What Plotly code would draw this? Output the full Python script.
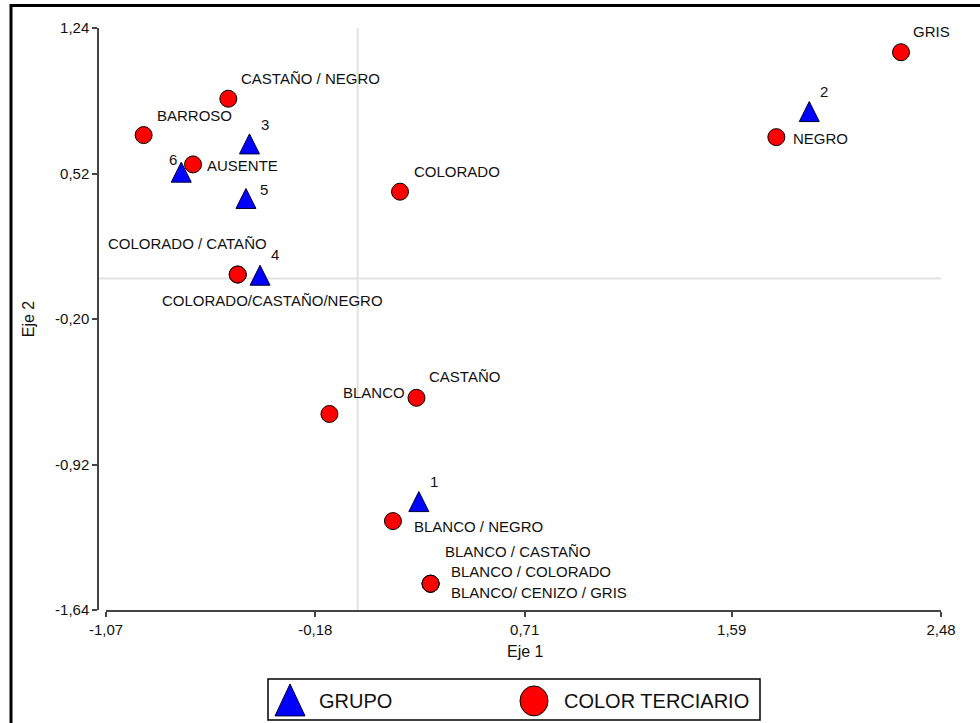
import plotly.graph_objects as go

# ---------------- data ----------------
group_labels = ["1", "2", "3", "4", "5", "6"]
group_x = [0.26, 1.92, -0.46, -0.415, -0.475, -0.75]
group_y = [-1.12, 0.81, 0.65, 0.00, 0.38, 0.51]

color_labels = [
    "GRIS", "NEGRO", "CASTAÑO / NEGRO", "BARROSO", "AUSENTE", "COLORADO",
    "COLORADO / CATAÑO", "COLORADO/CASTAÑO/NEGRO", "BLANCO", "CASTAÑO",
    "BLANCO / NEGRO", "BLANCO / CASTAÑO", "BLANCO / COLORADO", "BLANCO/ CENIZO / GRIS",
]
color_x = [2.31, 1.78, -0.55, -0.91, -0.70, 0.18, -0.51, -0.51, -0.12, 0.25, 0.15, 0.31, 0.31, 0.31]
color_y = [1.12, 0.70, 0.89, 0.71, 0.565, 0.43, 0.02, 0.02, -0.67, -0.59, -1.20, -1.51, -1.51, -1.51]

x_ticks = [-1.07, -0.18, 0.71, 1.59, 2.48]
y_ticks = [-1.64, -0.92, -0.20, 0.52, 1.24]
x_ticktext = ["-1,07", "-0,18", "0,71", "1,59", "2,48"]
y_ticktext = ["-1,64", "-0,92", "-0,20", "0,52", "1,24"]

legend_names = ["GRUPO", "COLOR TERCIARIO"]
axis_titles = ["Eje 1", "Eje 2"]

# label placement (anchor, xshift px, yshift px)
group_label_pos = [("center", 15, 23), ("center", 15, 23), ("center", 16, 23),
                   ("center", 15, 24), ("center", 18, 12), ("center", -8, 16)]
color_label_pos = [
    ("center", 30, 21), ("left", 15, -1), ("left", 11, 20), ("left", 11, 20),
    ("left", 12, -1), ("left", 12, 20), ("right", 31, 31), ("left", -78, -26),
    ("left", 12, 21), ("left", 11, 21), ("left", 19, -5), ("left", 12, 32),
    ("left", 18, 12), ("left", 18, -9),
]

FONT = "Liberation Sans, Arial, sans-serif"

# plot area in pixels: x 98..941, y 27.5..610
L, R, T, B = 98, 39, 27.5, 113
W, H = 980, 723
PW = W - L - R
PH = H - T - B


def px(xp):
    return (xp - L) / PW


def py(yp):
    return (H - B - yp) / PH


TRI = 20  # triangle marker size (px)

fig = go.Figure()

fig.add_trace(go.Scatter(
    x=group_x, y=group_y, mode="markers", name=legend_names[0],
    marker=dict(symbol="arrow-down", size=TRI, color="#0000FF", angle=180,
                standoff=TRI * 2 / 3,
                line=dict(color="#000033", width=1)),
    hoverinfo="text", text=group_labels, showlegend=False,
))
fig.add_trace(go.Scatter(
    x=color_x, y=color_y, mode="markers", name=legend_names[1],
    marker=dict(symbol="circle", size=17, color="#FF0000",
                line=dict(color="#000000", width=1)),
    hoverinfo="text", text=color_labels, showlegend=False,
))

annotations = []
for lab, xv, yv, (anc, dx, dy) in zip(group_labels, group_x, group_y, group_label_pos):
    annotations.append(dict(x=xv, y=yv, xref="x", yref="y", text=lab, showarrow=False,
                            xanchor=anc, yanchor="middle", xshift=dx, yshift=dy,
                            font=dict(family=FONT, size=15, color="#111111")))
for lab, xv, yv, (anc, dx, dy) in zip(color_labels, color_x, color_y, color_label_pos):
    annotations.append(dict(x=xv, y=yv, xref="x", yref="y", text=lab, showarrow=False,
                            xanchor=anc, yanchor="middle", xshift=dx, yshift=dy,
                            font=dict(family=FONT, size=15, color="#111111")))

# axis titles
annotations.append(dict(x=px(525), y=py(652), xref="paper", yref="paper", text=axis_titles[0],
                        showarrow=False, xanchor="center", yanchor="middle",
                        font=dict(family=FONT, size=16, color="#111111")))
annotations.append(dict(x=px(28), y=py(319), xref="paper", yref="paper", text=axis_titles[1],
                        showarrow=False, xanchor="center", yanchor="middle", textangle=-90,
                        font=dict(family=FONT, size=16, color="#111111")))

# legend texts
annotations.append(dict(x=px(317), y=py(701), xref="paper", yref="paper", text=legend_names[0],
                        showarrow=False, xanchor="left", yanchor="middle",
                        font=dict(family=FONT, size=20, color="#111111")))
annotations.append(dict(x=px(562), y=py(701), xref="paper", yref="paper", text=legend_names[1],
                        showarrow=False, xanchor="left", yanchor="middle",
                        font=dict(family=FONT, size=20, color="#111111")))

shapes = [
    # reference lines at 0
    dict(type="line", xref="x", yref="paper", x0=0, x1=0, y0=0, y1=1,
         line=dict(color="#e2e2e2", width=2), layer="below"),
    dict(type="line", xref="paper", yref="y", x0=0, x1=1, y0=0, y1=0,
         line=dict(color="#e2e2e2", width=2), layer="below"),
    # outer frame
    dict(type="rect", xref="paper", yref="paper", x0=px(11), x1=px(995), y0=py(740), y1=py(5),
         line=dict(color="#000000", width=3), fillcolor="rgba(0,0,0,0)"),
    # legend box
    dict(type="rect", xref="paper", yref="paper", x0=px(268), x1=px(760), y0=py(720), y1=py(679),
         line=dict(color="#000000", width=1.5), fillcolor="rgba(0,0,0,0)"),
    # legend triangle
    dict(type="path", xref="paper", yref="paper",
         path=f"M {px(290)},{py(684)} L {px(275)},{py(716)} L {px(305)},{py(716)} Z",
         line=dict(color="#000033", width=1), fillcolor="#0000FF"),
    # legend circle
    dict(type="circle", xref="paper", yref="paper", x0=px(520), x1=px(548), y0=py(716), y1=py(686),
         line=dict(color="#000000", width=1), fillcolor="#FF0000"),
]

fig.update_layout(
    width=W, height=H,
    margin=dict(l=L, r=R, t=T, b=B, pad=0),
    paper_bgcolor="white", plot_bgcolor="white",
    font=dict(family=FONT, size=15, color="#111111"),
    showlegend=False,
    xaxis=dict(range=[-1.07, 2.48], tickvals=x_ticks, ticktext=x_ticktext,
               domain=[px(106), 1], anchor="y",
               showline=True, linecolor="#444444", linewidth=1.5,
               ticks="outside", ticklen=5, tickwidth=1.5, tickcolor="#444444",
               showgrid=False, zeroline=False,
               tickfont=dict(family=FONT, size=15, color="#111111")),
    yaxis=dict(range=[-1.64, 1.24], tickvals=y_ticks, ticktext=y_ticktext,
               anchor="free", position=0,
               showline=True, linecolor="#444444", linewidth=1.5,
               ticks="outside", ticklen=5, tickwidth=1.5, tickcolor="#444444",
               showgrid=False, zeroline=False,
               tickfont=dict(family=FONT, size=15, color="#111111")),
    annotations=annotations,
    shapes=shapes,
)

fig.write_html("out.html")
